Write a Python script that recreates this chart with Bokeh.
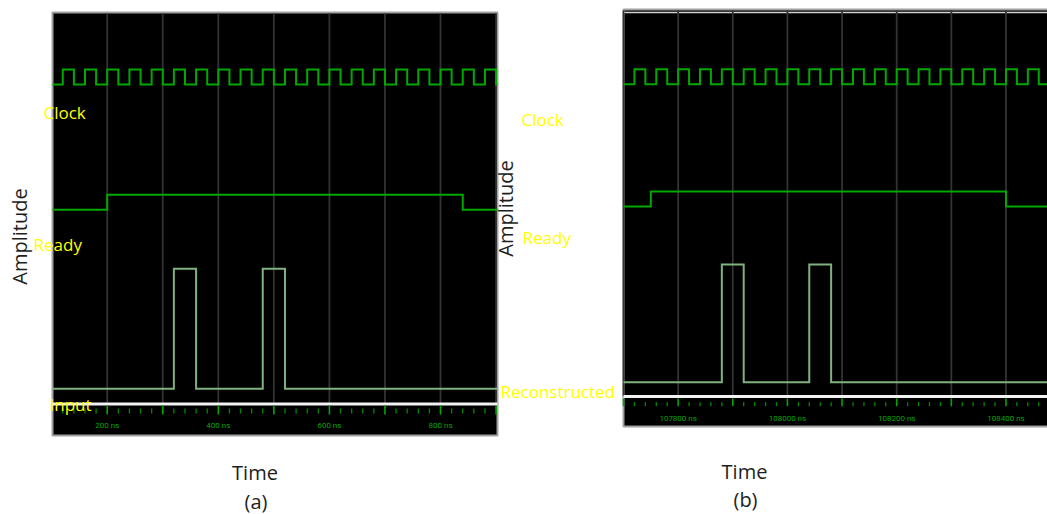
import math
import numpy as np
from bokeh.plotting import figure
from bokeh.models import Label, Range1d
from bokeh.embed import file_html
from bokeh.resources import INLINE
from bokeh.core.properties import value

# ---------------- data (times in ns) ----------------
clock_high_ns = 20

# panel (a)
a_window = (101.5, 902.6)                       # visible time window
a_clock_rises = [120, 160, 200, 240, 280, 320, 360, 400, 440, 480,
                 520, 560, 600, 640, 680, 720, 760, 800, 840, 880]
a_ready_on = [(200, 840)]
a_recon_pulses = [(320, 360), (480, 520)]
a_grid_ticks = [200, 300, 400, 500, 600, 700, 800, 900]
a_tick_values = [200, 400, 600, 800]
a_tick_labels = ["200 ns", "400 ns", "600 ns", "800 ns"]
a_signal_names = ["Clock", "Ready", "Input"]

# panel (b)
b_window = (107700, 108476)
b_clock_rises = [107720, 107760, 107800, 107840, 107880, 107920, 107960,
                 108000, 108040, 108080, 108120, 108160, 108200, 108240,
                 108280, 108320, 108360, 108400, 108440]
b_ready_on = [(107750, 108400)]
b_recon_pulses = [(107880, 107920), (108040, 108080)]
b_grid_ticks = [107700, 107800, 107900, 108000, 108100, 108200, 108300, 108400]
b_tick_values = [107800, 108000, 108200, 108400]
b_tick_labels = ["107800 ns", "108000 ns", "108200 ns", "108400 ns"]
b_signal_names = ["Clock", "Ready", "Reconstructed"]

# ---------------- styling / layout ----------------
W, H = 1047, 514
YELLOW = "#ffff00"
GREEN = "#00a800"
MINOR_GREEN = "#008a00"
PULSE = "#7fb27f"
GRID = "#333333"
DARK = "#1e1e1e"
FONT = "Open Sans"

# horizontal frame of each panel in page pixels, and vertical layout (px from top)
LA = dict(frame=(52, 497), top=12, bottom=435,
          clock=(84, 15), ready=(209.3, 15), recon=(388.3, 120), input_y=403.5,
          major=(405, 414), minor=(408, 413), tick_label_y=425, top_line=None)
LB = dict(frame=(623, 1047), top=9, bottom=426,
          clock=(83.7, 15), ready=(206, 15), recon=(381.7, 117.7), input_y=396,
          major=(398, 405.7), minor=(401.7, 405.7), tick_label_y=418.3,
          top_line=12)


def page_range(window, frame):
    (t0, t1), (f0, f1) = window, frame
    k = (t1 - t0) / (f1 - f0)
    return Range1d(t0 - f0 * k, t0 + (W - f0) * k)


def square_wave(intervals, t0, t1):
    xs, ys = [t0], [0.0]
    for s, e in intervals:
        xs += [s, s, e, e]
        ys += [0.0, 1.0, 1.0, 0.0]
    xs.append(t1)
    ys.append(0.0)
    return np.array(xs, float), np.array(ys, float)


p = figure(width=W, height=H, title=None, toolbar_location=None,
           x_axis_type=None, y_axis_type=None, output_backend="svg",
           x_range=page_range(a_window, LA["frame"]),
           y_range=Range1d(H, 0),
           min_border=0, background_fill_color="white",
           border_fill_color="white")
p.outline_line_color = None
p.extra_x_ranges = {"b": page_range(b_window, LB["frame"])}


def draw_panel(rname, window, L, clock_rises, ready_on, pulses, grid_ticks,
               tick_values, tick_labels, extend_right=0.0):
    t0, t1 = window
    kw = {} if rname is None else {"x_range_name": rname}
    # black panel with grey border
    p.quad(left=[t0], right=[t1 + extend_right], top=[L["top"]],
           bottom=[L["bottom"]], fill_color="black", line_color="#a0a0a0",
           line_width=2, **kw)
    if L["top_line"] is not None:
        p.segment(x0=[t0], x1=[t1 + extend_right], y0=[L["top_line"]],
                  y1=[L["top_line"]], line_color="#d2d2d2", line_width=1.5, **kw)
    # grid
    n = len(grid_ticks)
    p.segment(x0=grid_ticks, x1=grid_ticks, y0=[L["top"] + 1] * n,
              y1=[L["input_y"]] * n, line_color=GRID, line_width=1.8, **kw)
    # signals
    for intervals, (base, amp), color in (
            ([(r, min(r + clock_high_ns, t1)) for r in clock_rises if r < t1],
             L["clock"], GREEN),
            (ready_on, L["ready"], GREEN),
            (pulses, L["recon"], PULSE)):
        xs, ys = square_wave(intervals, t0, t1)
        p.line(xs, base - amp * ys, line_color=color, line_width=2,
               line_join="miter", **kw)
    # input bus line
    p.segment(x0=[t0], x1=[t1], y0=[L["input_y"]], y1=[L["input_y"]],
              line_color="#f2f2f2", line_width=3, **kw)
    # time strip
    minor = [t for t in np.arange(grid_ticks[0] - 100, t1, 20)
             if t0 < t < t1 and t not in grid_ticks]
    m = len(minor)
    p.segment(x0=minor, x1=minor, y0=[L["minor"][0]] * m,
              y1=[L["minor"][1]] * m, line_color=MINOR_GREEN, line_width=1.3, **kw)
    p.segment(x0=grid_ticks, x1=grid_ticks, y0=[L["major"][0]] * n,
              y1=[L["major"][1]] * n, line_color=GREEN, line_width=1.6, **kw)
    p.text(x=tick_values, y=[L["tick_label_y"]] * len(tick_values),
           text=tick_labels, text_font=value("Roboto"),
           text_font_size=value("8px"), text_color=GREEN,
           text_align="center", text_baseline="middle", **kw)


draw_panel(None, a_window, LA, a_clock_rises, a_ready_on, a_recon_pulses,
           a_grid_ticks, a_tick_values, a_tick_labels)
draw_panel("b", b_window, LB, b_clock_rises, b_ready_on, b_recon_pulses,
           b_grid_ticks, b_tick_values, b_tick_labels, extend_right=10)

# ---------------- texts (positions in page pixels) ----------------
ra, rb = p.x_range, p.extra_x_ranges["b"]


def px_to_x(rng, px):
    return rng.start + (rng.end - rng.start) * px / W


texts = [
    (None, a_signal_names[0], 43, 111.7, YELLOW, "17px", "left", 0),
    (None, a_signal_names[1], 33, 244, YELLOW, "17px", "left", 0),
    (None, a_signal_names[2], 49, 403.5, YELLOW, "17px", "left", 0),
    (None, "Amplitude", 19, 236, DARK, "20px", "center", math.pi / 2),
    (None, "Time", 254.5, 472, DARK, "20px", "center", 0),
    (None, "(a)", 255.5, 500.5, DARK, "20px", "center", 0),
    ("b", b_signal_names[0], 521, 119, YELLOW, "17px", "left", 0),
    ("b", b_signal_names[1], 522, 237, YELLOW, "17px", "left", 0),
    ("b", b_signal_names[2], 500, 391, YELLOW, "17px", "left", 0),
    ("b", "Amplitude", 505, 208, DARK, "20px", "center", math.pi / 2),
    ("b", "Time", 744, 470.5, DARK, "20px", "center", 0),
    ("b", "(b)", 745, 498.5, DARK, "20px", "center", 0),
]
for rname, text, px, py, color, size, align, ang in texts:
    rng = ra if rname is None else rb
    extra = {} if rname is None else {"x_range_name": rname}
    p.add_layout(Label(x=px_to_x(rng, px), y=py, text=text, text_font=FONT,
                       text_font_size=size, text_color=color, text_align=align,
                       text_baseline="middle", angle=ang, **extra))

open("out.html", "w").write(file_html(p, INLINE))
